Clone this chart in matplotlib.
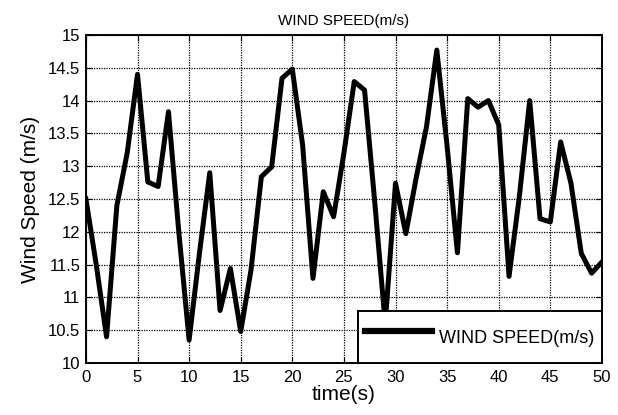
import matplotlib
matplotlib.use("Agg")
import matplotlib.pyplot as plt

time_s = list(range(0, 51))
wind_speed = [12.5, 11.5, 10.4, 12.4, 13.2, 14.4, 12.76, 12.69, 13.83, 12.0,
              10.35, 11.67, 12.9, 10.8, 11.44, 10.48, 11.42, 12.84, 12.99, 14.34,
              14.48, 13.32, 11.29, 12.61, 12.23, 13.2, 14.29, 14.16, 12.43, 10.6,
              12.74, 11.97, 12.82, 13.6, 14.77, 13.3, 11.68, 14.03, 13.9, 14.0,
              13.63, 11.32, 12.54, 14.0, 12.2, 12.15, 13.37, 12.74, 11.67, 11.37,
              11.54]
x_ticks = list(range(0, 51, 5))
y_ticks = [10, 10.5, 11, 11.5, 12, 12.5, 13, 13.5, 14, 14.5, 15]
y_tick_labels = ["10", "10.5", "11", "11.5", "12", "12.5", "13", "13.5", "14", "14.5", "15"]

plt.rcParams['font.family'] = ['Liberation Sans', 'DejaVu Sans']

fig = plt.figure(figsize=(6.18, 4.15), dpi=100)
ax = fig.add_axes([0.139, 0.1253, 0.835, 0.7904])

ax.plot(time_s, wind_speed, color='black', linewidth=3.6, label='WIND SPEED(m/s)',
        solid_joinstyle='round')
ax.set_xlim(0, 50)
ax.set_ylim(10, 15)
ax.set_xticks(x_ticks)
ax.set_yticks(y_ticks)
ax.set_yticklabels(y_tick_labels)
ax.grid(True, color='black', linestyle=(0, (1, 1)), linewidth=0.9)
ax.tick_params(direction='in', top=True, right=True, labelsize=12, length=4, width=0.8)
ax.tick_params(axis='x', pad=5)
ax.tick_params(axis='y', pad=4)
for s in ax.spines.values():
    s.set_linewidth(1.4)
ax.set_xlabel('time(s)', fontsize=15, labelpad=0)
ax.set_ylabel('Wind Speed (m/s)', fontsize=15, labelpad=6)
ax.set_title('WIND SPEED(m/s)', fontsize=11, pad=7)

leg = ax.legend(loc='lower right', bbox_to_anchor=(1.0, 0.0), borderaxespad=0,
                fancybox=False, edgecolor='black', framealpha=1, fontsize=13,
                handlelength=3.7, handletextpad=0.4, borderpad=0.4, handleheight=2.8)
leg.get_frame().set_linewidth(1.4)
leg.get_lines()[0].set_linewidth(4.5)

fig.savefig('out.png', dpi=100)
